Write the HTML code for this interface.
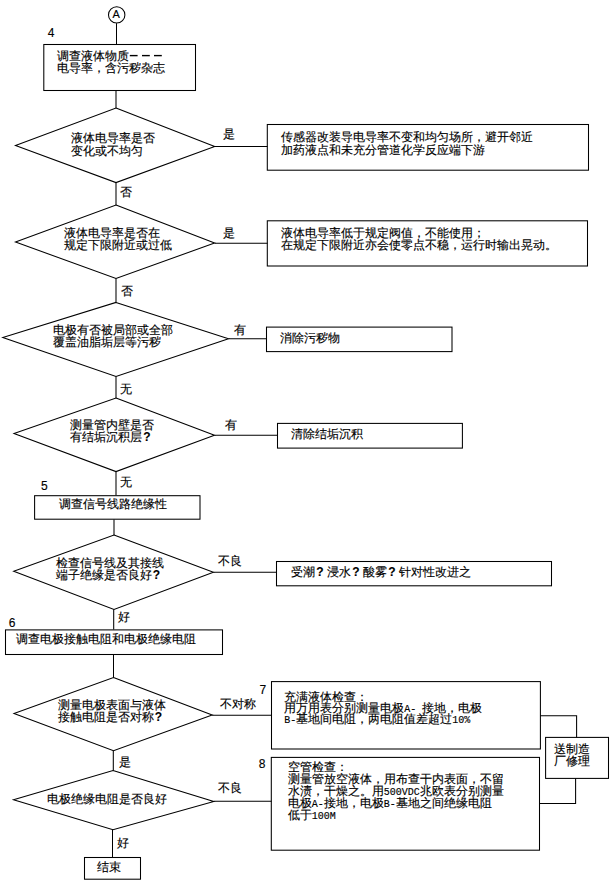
<!DOCTYPE html>
<html><head><meta charset="utf-8"><style>
html,body{margin:0;padding:0;background:#fff;}
body{width:614px;height:892px;position:relative;overflow:hidden;font-family:"Liberation Sans",sans-serif;color:#000;}
svg{position:absolute;left:0;top:0;}
svg path,svg rect,svg circle{fill:none;stroke:#000;stroke-width:1.05;}
.t{position:absolute;white-space:pre;color:#000;-webkit-text-stroke:0.15px #000;}
.n{font-size:12px;line-height:12px;}
.q{display:inline-block;width:12px;padding-left:1.3px;box-sizing:border-box;font-weight:bold;font-size:12px;line-height:0;}
.m{font-family:"Liberation Mono",monospace;font-size:10px;line-height:0;}
</style></head><body>
<svg width="614" height="892" viewBox="0 0 614 892">
<circle cx="116.7" cy="14.9" r="8.2"/>
<path d="M116.5,23.2 L116.5,44.5"/>
<rect x="43.8" y="44.5" width="151.7" height="46.0"/>
<path d="M116,90.5 L116,108"/>
<path style="stroke-width:1.4" d="M129.8,55.6 L137.60000000000002,55.6"/>
<path style="stroke-width:1.4" d="M142.0,55.6 L149.8,55.6"/>
<path style="stroke-width:1.4" d="M154.0,55.6 L161.8,55.6"/>
<path class="d" d="M116,108 L214.7,146.5 L116,182.6 L15.5,145.5Z"/>
<path d="M214.7,146.5 L267.5,146.5"/>
<rect x="267.3" y="124.5" width="321.2" height="45.7"/>
<path d="M116,182.6 L116,205"/>
<path class="d" d="M116,205 L214.6,243 L116,278.5 L15.5,242Z"/>
<path d="M214.6,243.3 L267.5,243.3"/>
<rect x="267.3" y="220.8" width="320.2" height="45.2"/>
<path d="M116,278.5 L116,302.4"/>
<path class="d" d="M116,302.4 L228.5,338.7 L116,376.5 L2.8,337.6Z"/>
<path d="M228.5,338.7 L266.5,338.7"/>
<rect x="266.5" y="327.1" width="185.5" height="24.5"/>
<path d="M116,376.5 L116,398"/>
<path class="d" d="M116,398 L214.5,435.2 L116,471.6 L14,433.5Z"/>
<path d="M214.5,435.2 L277.5,435.2"/>
<rect x="277.5" y="423.4" width="184.9" height="24.7"/>
<path d="M116,471.6 L116,495.3"/>
<rect x="34.6" y="495.7" width="165.4" height="23.5"/>
<path d="M114,519.5 L114,535"/>
<path class="d" d="M114,535 L213.4,572.2 L114,609.5 L13.7,571.2Z"/>
<path d="M213.4,572.3 L276.5,572.3"/>
<rect x="276.5" y="561.5" width="275.0" height="24.3"/>
<path d="M113.7,609.5 L113.7,629.5"/>
<rect x="5.5" y="629.9" width="217.0" height="24.6"/>
<path d="M113.5,654.4 L113.5,677.5"/>
<path class="d" d="M113.5,677.5 L212.2,715 L113.5,750.8 L14,713.5Z"/>
<path d="M212.2,715.2 L271.5,715.2"/>
<rect x="271.5" y="681.6" width="268.9" height="67.4"/>
<path d="M540.4,715.8 L576.6,715.8 L576.6,737.4"/>
<rect x="545.6" y="737.4" width="62.9" height="41.0"/>
<path d="M575.6,778.4 L575.6,803.4 L539.5,803.4"/>
<path d="M113.3,750.8 L113.3,770.5"/>
<path class="d" d="M113,770.5 L213.8,801.4 L113,829.8 L13.5,799.8Z"/>
<path d="M213.8,801.3 L271.5,801.3"/>
<rect x="271.3" y="757.4" width="268.2" height="92.8"/>
<path d="M112.5,829.8 L112.5,857.5"/>
<rect x="84.5" y="857.5" width="56.0" height="21.7"/>
</svg>
<div class="t" style="left:112.6px;top:9.3px;font-size:11px;line-height:11px;">A</div>
<div class="t n" style="left:47.8px;top:27.2px;">4</div>
<div class="t" style="left:57.4px;top:49.6px;font-size:12px;line-height:12.3px;">调查液体物质
电导率，含污秽杂志</div>
<div class="t" style="left:71px;top:132.3px;font-size:12px;line-height:12.5px;">液体电导率是否
变化或不均匀</div>
<div class="t" style="left:223px;top:128.4px;font-size:12px;line-height:12.5px;">是</div>
<div class="t" style="left:281.3px;top:131.4px;font-size:12px;line-height:12.2px;">传感器改装导电导率不变和均匀场所，避开邻近
加药液点和未充分管道化学反应端下游</div>
<div class="t" style="left:120px;top:186px;font-size:12px;line-height:12.5px;">否</div>
<div class="t" style="left:64px;top:227px;font-size:12px;line-height:12px;">液体电导率是否在
规定下限附近或过低</div>
<div class="t" style="left:223px;top:227px;font-size:12px;line-height:12.5px;">是</div>
<div class="t" style="left:281px;top:227.8px;font-size:12px;line-height:11.8px;">液体电导率低于规定阀值，不能使用；
在规定下限附近亦会使零点不稳，运行时输出晃动。</div>
<div class="t" style="left:121px;top:285px;font-size:12px;line-height:12.5px;">否</div>
<div class="t" style="left:53px;top:324.2px;font-size:12px;line-height:12px;">电极有否被局部或全部
覆盖油脂垢层等污秽</div>
<div class="t" style="left:233.5px;top:324.2px;font-size:12px;line-height:12.5px;">有</div>
<div class="t" style="left:280px;top:332.2px;font-size:12px;line-height:12.5px;">消除污秽物</div>
<div class="t" style="left:120px;top:382.5px;font-size:12px;line-height:12.5px;">无</div>
<div class="t" style="left:70px;top:419px;font-size:12px;line-height:12.3px;">测量管内壁是否
有结垢沉积层<span class=q>?</span></div>
<div class="t" style="left:225px;top:419px;font-size:12px;line-height:12.5px;">有</div>
<div class="t" style="left:290.7px;top:428px;font-size:12px;line-height:12.5px;">清除结垢沉积</div>
<div class="t" style="left:120px;top:476px;font-size:12px;line-height:12.5px;">无</div>
<div class="t n" style="left:41px;top:480px;">5</div>
<div class="t" style="left:58.7px;top:498.2px;font-size:12px;line-height:12.5px;">调查信号线路绝缘性</div>
<div class="t" style="left:55.5px;top:557.8px;font-size:12px;line-height:11.7px;">检查信号线及其接线
端子绝缘是否良好<span class=q>?</span></div>
<div class="t" style="left:218px;top:554.7px;font-size:12px;line-height:12.5px;">不良</div>
<div class="t" style="left:291px;top:566.4px;font-size:12px;line-height:12.5px;">受潮<span class=q>?</span>浸水<span class=q>?</span>酸雾<span class=q>?</span>针对性改进之</div>
<div class="t" style="left:118px;top:611px;font-size:12px;line-height:12.5px;">好</div>
<div class="t n" style="left:8.8px;top:617.3px;">6</div>
<div class="t" style="left:16px;top:633px;font-size:12px;line-height:12.5px;">调查电极接触电阻和电极绝缘电阻</div>
<div class="t" style="left:57.5px;top:699px;font-size:12px;line-height:12px;">测量电极表面与液体
接触电阻是否对称<span class=q>?</span></div>
<div class="t" style="left:220.3px;top:697.6px;font-size:11.5px;line-height:12px;">不对称</div>
<div class="t n" style="left:259.5px;top:684.3px;">7</div>
<div class="t" style="left:284.3px;top:691.6px;font-size:12px;line-height:11.2px;">充满液体检查：
用万用表分别测量电极<span class=m>A- </span>接地，电极
<span class=m>B-</span>基地间电阻，两电阻值差超过<span class=m>10%</span></div>
<div class="t" style="left:553.7px;top:744.4px;font-size:12px;line-height:11.2px;">送制造
厂修理</div>
<div class="t" style="left:118.6px;top:756px;font-size:12px;line-height:12.5px;">是</div>
<div class="t" style="left:47.4px;top:793px;font-size:12px;line-height:12.5px;">电极绝缘电阻是否良好</div>
<div class="t" style="left:218px;top:782px;font-size:12px;line-height:12.5px;">不良</div>
<div class="t n" style="left:258.8px;top:758.3px;">8</div>
<div class="t" style="left:287.8px;top:761px;font-size:12px;line-height:12px;">空管检查：
测量管放空液体，用布查干内表面，不留
水渍，干燥之。用<span class=m>500VDC</span>兆欧表分别测量
电极<span class=m>A-</span>接地，电极<span class=m>B-</span>基地之间绝缘电阻
低于<span class=m>100M</span></div>
<div class="t" style="left:116.5px;top:837.4px;font-size:12px;line-height:12.5px;">好</div>
<div class="t" style="left:96.7px;top:861.2px;font-size:12px;line-height:12.5px;">结束</div>
</body></html>
